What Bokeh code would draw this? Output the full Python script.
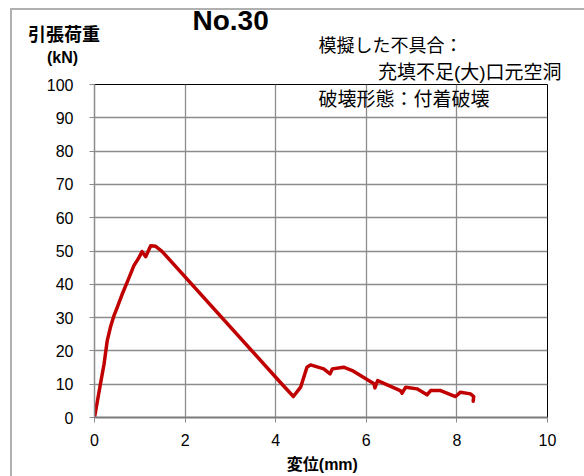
from bokeh.plotting import figure
from bokeh.models import Label, Title, FixedTicker, Range1d
from bokeh.embed import file_html
from bokeh.resources import INLINE

# data (displacement mm, load kN)
disp = [0, 0.13, 0.21, 0.28, 0.35, 0.43, 0.5, 0.61, 0.72, 0.87, 0.98, 1.05, 1.13, 1.24,
        1.35, 1.49, 4.1, 4.39, 4.55, 4.69, 4.77, 5.06, 5.2, 5.25, 5.5, 5.69, 6.17, 6.19,
        6.25, 6.75, 6.79, 6.87, 7.12, 7.34, 7.42, 7.64, 7.97, 8.08, 8.3, 8.37, 8.36]
load = [0, 10, 16, 23, 27, 30.6, 33, 37, 40.6, 45.6, 48, 49.8, 48.3, 51.6,
        51.4, 49.9, 10.6, 6.3, 9.1, 15.1, 15.8, 14.6, 13.1, 14.6, 15.1, 14.1, 10.1, 8.9,
        11.1, 8.1, 7.3, 9.1, 8.6, 6.8, 8.1, 8.1, 6.3, 7.6, 7.1, 6.3, 4.9]
x_ticks = [0, 2, 4, 6, 8, 10]
y_ticks = [0, 10, 20, 30, 40, 50, 60, 70, 80, 90, 100]

title_text = "No.30"
y_title = ["引張荷重", "(kN)"]
x_title = "変位(mm)"
note1 = "模擬した不具合："
note2 = "充填不足(大)口元空洞"
note3 = "破壊形態：付着破壊"

CJK = "Liberation Sans, Noto Sans CJK JP"
NUM = "Liberation Sans"

edge = "#b0b0b0"
p = figure(width=584, height=476, output_backend="svg", toolbar_location=None,
           x_range=Range1d(0, 10), y_range=Range1d(0, 100),
           min_border_left=94, min_border_right=37, min_border_top=84, min_border_bottom=59,
           styles={
               "background-image": f"linear-gradient({edge},{edge}), linear-gradient({edge},{edge})",
               "background-size": "2px 100%, 100% 2px",
               "background-position": "10px 8px, 10px 8px",
               "background-repeat": "no-repeat",
           })
p.outline_line_color = "black"
p.outline_line_width = 1
p.background_fill_color = "white"
p.border_fill_color = None

grid_col = "#8c8c8c"
p.xaxis.ticker = FixedTicker(ticks=x_ticks)
p.yaxis.ticker = FixedTicker(ticks=y_ticks)
p.xgrid.grid_line_color = grid_col
p.ygrid.grid_line_color = grid_col
p.xgrid.grid_line_width = 1.3
p.ygrid.grid_line_width = 1.3

for ax in (p.xaxis, p.yaxis):
    ax.major_label_text_font = NUM
    ax.major_label_text_font_size = "16px"
    ax.major_label_text_color = "black"
    ax.major_tick_in = 0
    ax.major_tick_out = 5
    ax.minor_tick_out = 0
    ax.minor_tick_in = 0
    ax.major_tick_line_color = grid_col
p.xaxis.axis_line_color = "#7a7a7a"
p.xaxis.axis_line_width = 2
p.yaxis.axis_line_color = grid_col
p.yaxis.axis_line_width = 1.5
p.xaxis.major_label_standoff = 11
p.yaxis.major_label_standoff = 16

p.line(disp, load, line_color="#C00000", line_width=3.5, line_join="round", line_cap="round")

def lab(x, y, text, font, size, bold=False, align="left"):
    return Label(x=x, y=y, text=text, text_font=font, text_font_size=size,
                 text_font_style="bold" if bold else "normal", text_color="black",
                 text_align=align, text_baseline="middle")

p.add_layout(lab(-0.706, 108.1, y_title[1], NUM, "16px", True, "center"), "left")
p.add_layout(lab(5.03, -14.1, x_title, CJK, "16px", True, "center"), "below")
p.add_layout(lab(10.31, 103.7, note2, CJK, "19px", align="right"), "above")
p.add_layout(lab(4.945, 111.7, note1, CJK, "18px"), "above")
p.add_layout(lab(-0.673, 115.0, y_title[0], CJK, "18px", True, "center"), "above")
p.add_layout(Title(text=title_text, text_font=NUM, text_font_size="28px",
                   text_font_style="bold", text_color="black", align="left",
                   vertical_align="bottom", offset=98, standoff=-24), "above")
p.add_layout(Title(text=" ", text_font=NUM, text_font_size="10px", standoff=1), "above")
p.add_layout(lab(4.945, 95.5, note3, CJK, "19px"))

open("out.html", "w").write(file_html(p, INLINE))
